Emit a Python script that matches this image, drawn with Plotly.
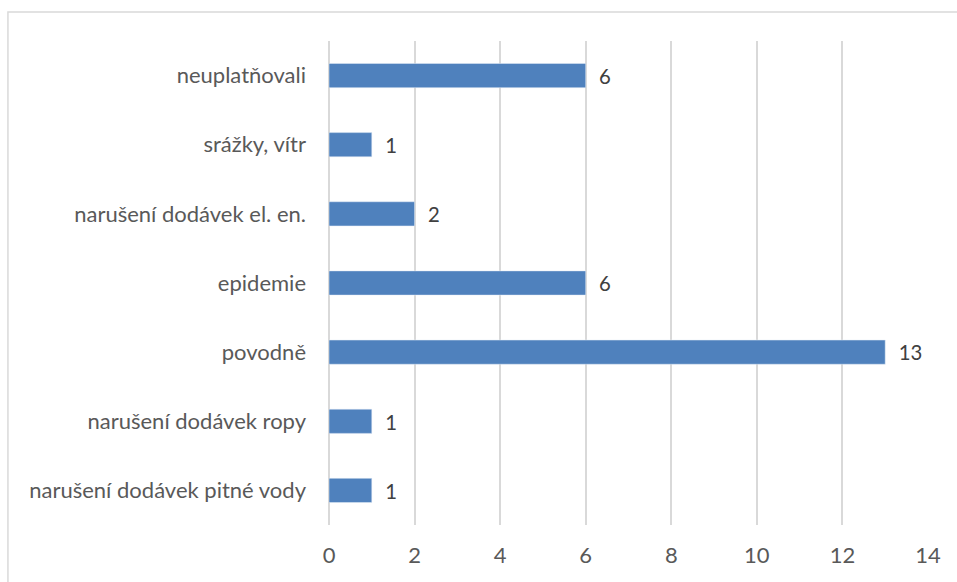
import plotly.graph_objects as go

categories = [
    "narušení dodávek pitné vody",
    "narušení dodávek ropy",
    "povodně",
    "epidemie",
    "narušení dodávek el. en.",
    "srážky, vítr",
    "neuplatňovali",
]
values = [1, 1, 13, 6, 2, 1, 6]
x_ticks = [0, 2, 4, 6, 8, 10, 12, 14]

font_family = "Lato, Open Sans, sans-serif"
grid_color = "#D9D9D9"

fig = go.Figure(
    go.Bar(
        x=values,
        y=categories,
        orientation="h",
        marker_color="#4F81BD",
        texttemplate="  %{x}",
        textposition="outside",
        textfont=dict(size=21, color="#404040", family=font_family),
        cliponaxis=False,
    )
)

# outer chart border, as in the original spreadsheet chart
fig.add_shape(
    type="rect",
    xref="paper",
    yref="paper",
    x0=-0.536,
    x1=1.1,
    y0=-0.2,
    y1=1.06,
    line=dict(color=grid_color, width=1.5),
    fillcolor="rgba(0,0,0,0)",
    layer="below",
)

fig.update_layout(
    width=957,
    height=582,
    margin=dict(l=329, r=29, t=41, b=57),
    plot_bgcolor="white",
    paper_bgcolor="white",
    bargap=0.65,
    showlegend=False,
    font=dict(family=font_family, size=22, color="#595959"),
    xaxis=dict(
        range=[0, 14],
        tickvals=x_ticks,
        showgrid=True,
        gridcolor=grid_color,
        gridwidth=1.5,
        zeroline=True,
        zerolinecolor=grid_color,
        zerolinewidth=2,
        showline=False,
        ticks="",
        ticklabelstandoff=15,
    ),
    yaxis=dict(
        categoryorder="array",
        categoryarray=categories,
        showgrid=False,
        zeroline=False,
        ticks="",
        ticklabelstandoff=22,
    ),
)

fig.write_html(
    "out.html",
    config={"displayModeBar": False},
    post_script="document.body.style.margin='0';",
)
